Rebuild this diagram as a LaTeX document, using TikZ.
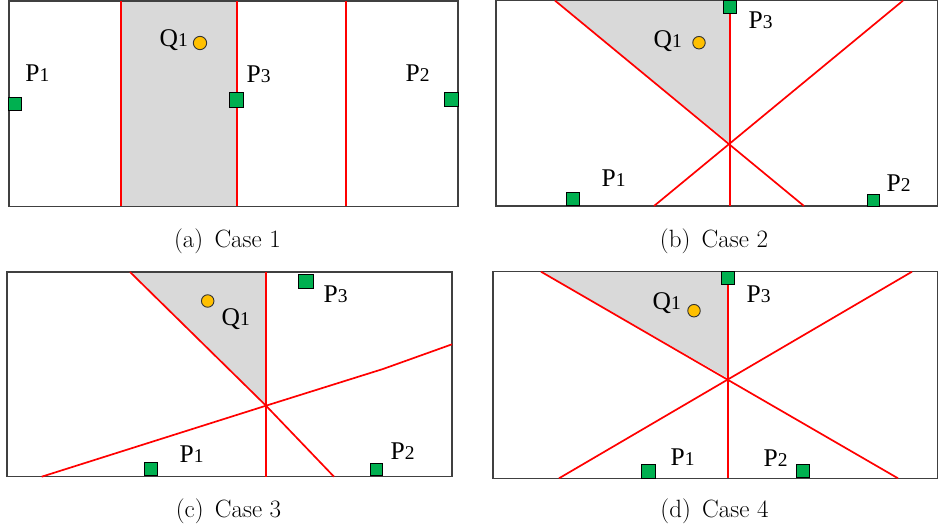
\documentclass[tikz,border=0pt]{standalone}
\usepackage{fontspec}
\newfontfamily\labfont{Liberation Serif}
\definecolor{shade}{HTML}{D9D9D9}
\definecolor{sitegreen}{HTML}{00B050}
\definecolor{querygold}{HTML}{FFC000}
\newcommand\lsub[1]{{\fontsize{19.5}{20}\selectfont #1}}
\begin{document}
\begin{tikzpicture}[x={(1pt,0pt)},y={(0pt,-1pt)},
  box/.style={draw=black!75, line width=1.3pt},
  cut/.style={draw=red, line width=1.7pt},
  region/.style={fill=shade},
  site/.style={draw=black, line width=0.9pt, fill=sitegreen, rectangle, inner sep=0pt, minimum size=13.5pt},
  query/.style={draw=black!80, line width=0.9pt, fill=querygold, circle, inner sep=0pt, minimum size=12.5pt},
  lab/.style={anchor=base west, inner sep=0pt, font=\labfont\fontsize{25.5}{28}\selectfont},
  captext/.style={anchor=base, inner sep=0pt, font=\fontsize{25}{28}\selectfont}]
\useasboundingbox (0,0) rectangle (938,529);

% ---------- (a) ----------
\fill[region] (121,1) rectangle (237,206.5);
\draw[box] (9,1) rectangle (458,206.5);
\draw[cut] (121,1) -- (121,206.5);
\draw[cut] (237,1) -- (237,206.5);
\draw[cut] (346,1) -- (346,206.5);
\node[site, minimum size=12.7pt] (a1) at (14.7,104) {};
\node[site, minimum size=14.7pt] (a3) at (236.3,99.8) {};
\node[site, minimum size=14pt] (a2) at (451,99.7) {};
\node[query, minimum size=13.3pt] (aq) at (200,43) {};
\node[lab] (la1) at (25.2,82) {P\lsub{1}};
\node[lab] (la3) at (246.5,83) {P\lsub{3}};
\node[lab] (la2) at (405.5,82) {P\lsub{2}};
\node[lab] (laq) at (159.5,46.5) {Q\lsub{1}};
\node[captext] (capa) at (227.5,248) {(a)\hspace{0.45em}Case 1};

% ---------- (b) ----------
\fill[region] (555,0.6) -- (730,0.6) -- (730,143.3) -- cycle;
\draw[box] (496,0.6) rectangle (937.4,206);
\draw[cut] (555,0.6) -- (804,206);
\draw[cut] (903,0.6) -- (654,206);
\draw[cut] (730,6) -- (730,206);
\node[site] (b3) at (730,6.8) {};
\node[site, minimum size=13.7pt] (b1) at (573,199) {};
\node[site, minimum size=12pt] (b2) at (873,200) {};
\node[query] (bq) at (699,42.7) {};
\node[lab] (lb3) at (748.5,28.3) {P\lsub{3}};
\node[lab] (lbq) at (653.5,47.7) {Q\lsub{1}};
\node[lab] (lb1) at (601.5,186.7) {P\lsub{1}};
\node[lab] (lb2) at (886.5,191.7) {P\lsub{2}};
\node[captext] (capb) at (714,248) {(b)\hspace{0.45em}Case 2};

% ---------- (c) ----------
\fill[region] (130,272) -- (266,272) -- (266,405.7) -- cycle;
\draw[box] (7,272) rectangle (452,476.7);
\draw[cut] (130,272) -- (266,405.7) -- (334,476.7);
\draw[cut] (266,272) -- (266,476.7);
\draw[cut] (41.7,476.7) -- (266,405.7) -- (383,369) -- (452,344.3);
\node[site, minimum size=14.5pt] (c3) at (306,281.7) {};
\node[site, minimum size=13pt] (c1) at (151,468.5) {};
\node[site, minimum size=12.5pt] (c2) at (376.5,469.5) {};
\node[query] (cq) at (207.7,301) {};
\node[lab] (lc3) at (323.5,302.3) {P\lsub{3}};
\node[lab] (lcq) at (221.5,325.7) {Q\lsub{1}};
\node[lab] (lc1) at (179.5,462.7) {P\lsub{1}};
\node[lab] (lc2) at (390.5,460) {P\lsub{2}};
\node[captext] (capc) at (228.5,518) {(c)\hspace{0.45em}Case 3};

% ---------- (d) ----------
\fill[region] (541,271.7) -- (728,271.7) -- (728,378.3) -- cycle;
\draw[box] (493,271.7) rectangle (937.4,478.3);
\draw[cut] (541,271.7) -- (898,478.3);
\draw[cut] (912,271.7) -- (559,478.3);
\draw[cut] (728,278) -- (728,478.3);
\node[site, minimum size=12.5pt] (d3) at (728,278) {};
\node[site, minimum size=14pt] (d1) at (648,471) {};
\node[site, minimum size=13.5pt] (d2) at (803,471) {};
\node[query] (dq) at (694,310.7) {};
\node[lab] (ld3) at (746.5,302.7) {P\lsub{3}};
\node[lab] (ldq) at (652.5,310) {Q\lsub{1}};
\node[lab] (ld1) at (670.5,465) {P\lsub{1}};
\node[lab] (ld2) at (763.5,466.7) {P\lsub{2}};
\node[captext] (capd) at (714.5,518) {(d)\hspace{0.45em}Case 4};
\end{tikzpicture}
\end{document}
